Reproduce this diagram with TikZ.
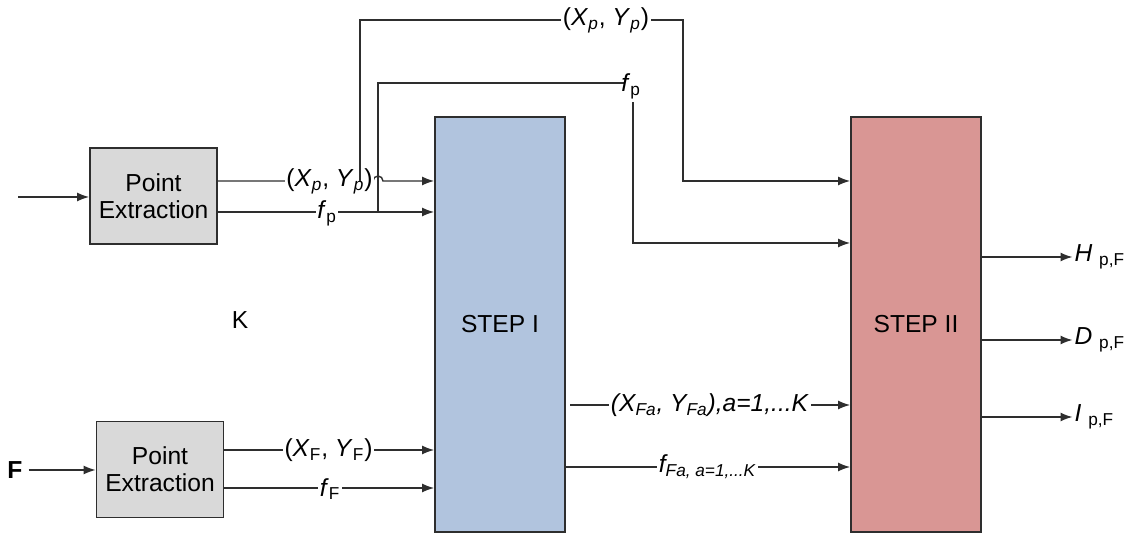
\documentclass[tikz,border=0pt]{standalone}
\usepackage{fontspec}
\setmainfont{Liberation Sans}
\usetikzlibrary{positioning,arrows.meta}

\definecolor{peGray}{HTML}{D9D9D9}
\definecolor{stepBlue}{HTML}{B1C4DE}
\definecolor{stepRed}{HTML}{D99694}
\definecolor{lineGray}{HTML}{2E2E2E}

\begin{document}
\begin{tikzpicture}[
    font=\fontsize{14}{15.5}\selectfont,
    pebox/.style={draw=lineGray, line width=1pt, fill=peGray, minimum width=2.54cm, minimum height=1.92cm, align=center, inner sep=1pt},
    stepbox/.style={draw=lineGray, line width=1pt, minimum width=2.6cm, minimum height=8.3cm, align=center},
    arr/.style={-{Latex[length=2.4mm,width=1.8mm]}, draw=lineGray, line width=0.8pt},
    wire/.style={draw=lineGray, line width=0.8pt},
    lbl/.style={fill=white, inner sep=1pt}
]
\useasboundingbox (0,0) rectangle (22.82,-10.72);

% blocks
\node[pebox] (pe1) at (3.07,-3.92) {Point\\Extraction};
\node[pebox] (pe2) at (3.2,-9.39) {Point\\Extraction};
\node[stepbox, fill=stepBlue] (s1) at (10,-6.49) {STEP I};
\node[stepbox, fill=stepRed] (s2) at (18.32,-6.49) {STEP II};

\node (K) at (4.8,-6.4) {K};
\node[font=\fontsize{14}{15}\selectfont\bfseries] (F) at (0.3,-9.4) {F};
\coordinate (in1) at (0.36,-3.94);

% inputs
\draw[arr] (in1) -- (in1 -| pe1.west);
\draw[arr] (F) -- (F -| pe2.west);

% from upper extraction
\coordinate (xp0) at (pe1.east |- 0,-3.62);
\coordinate (fp0) at (pe1.east |- 0,-4.24);
\draw[arr] (xp0) -- (7.46,-3.62) arc[start angle=180, end angle=0, radius=0.1] -- (s1.west |- xp0);
\draw[arr] (fp0) -- (s1.west |- fp0);
\node[lbl] (xpl) at (6.59,-3.62) {(\textit{X}\textsubscript{\textit{p}}, \textit{Y}\textsubscript{\textit{p}})};
\node[lbl] (fpl) at (6.54,-4.26) {\textit{f}\textsubscript{p}};

% branches to STEP II
\draw[arr] (7.2,-3.62) -- (7.2,-0.4) -- (13.66,-0.4) -- (13.66,-3.62) -- (s2.west |- 0,-3.62);
\node[lbl] (xpt) at (12.12,-0.4) {(\textit{X}\textsubscript{\textit{p}}, \textit{Y}\textsubscript{\textit{p}})};
\draw[wire] (7.56,-4.24) -- (7.56,-1.66) -- (12.5,-1.66);
\node[inner sep=1pt] (fpt) at (12.62,-1.72) {\textit{f}\textsubscript{p}};
\draw[arr] (12.66,-2.05) -- (12.66,-4.86) -- (s2.west |- 0,-4.86);

% from lower extraction
\draw[arr] (pe2.east |- 0,-9.0) -- (s1.west |- 0,-9.0);
\draw[arr] (pe2.east |- 0,-9.76) -- (s1.west |- 0,-9.76);
\node[lbl] (xfl) at (6.57,-9.0) {(\textit{X}\textsubscript{F}, \textit{Y}\textsubscript{F})};
\node[lbl] (ffl) at (6.6,-9.78) {\textit{f}\textsubscript{F}};

% STEP I to STEP II
\draw[arr] (11.4,-8.1) -- (s2.west |- 0,-8.1);
\draw[arr] (s1.east |- 0,-9.34) -- (s2.west |- 0,-9.34);
\node[lbl] (xfa) at (14.2,-8.1) {\textit{(X\textsubscript{Fa}, Y\textsubscript{Fa}),a=1,...K}};
\node[lbl] (ffa) at (14.15,-9.34) {\textit{f\textsubscript{Fa, a=1,...K}}};

% outputs
\node[anchor=west, inner sep=1pt] (H) at (21.45,-5.14) {\textit{H} \textsubscript{p,F}};
\node[anchor=west, inner sep=1pt] (D) at (21.45,-6.8) {\textit{D} \textsubscript{p,F}};
\node[anchor=west, inner sep=1pt] (I) at (21.45,-8.34) {\textit{I} \textsubscript{p,F}};
\draw[arr] (s2.east |- H) -- (H.west);
\draw[arr] (s2.east |- D) -- (D.west);
\draw[arr] (s2.east |- I) -- (I.west);

\end{tikzpicture}
\end{document}
